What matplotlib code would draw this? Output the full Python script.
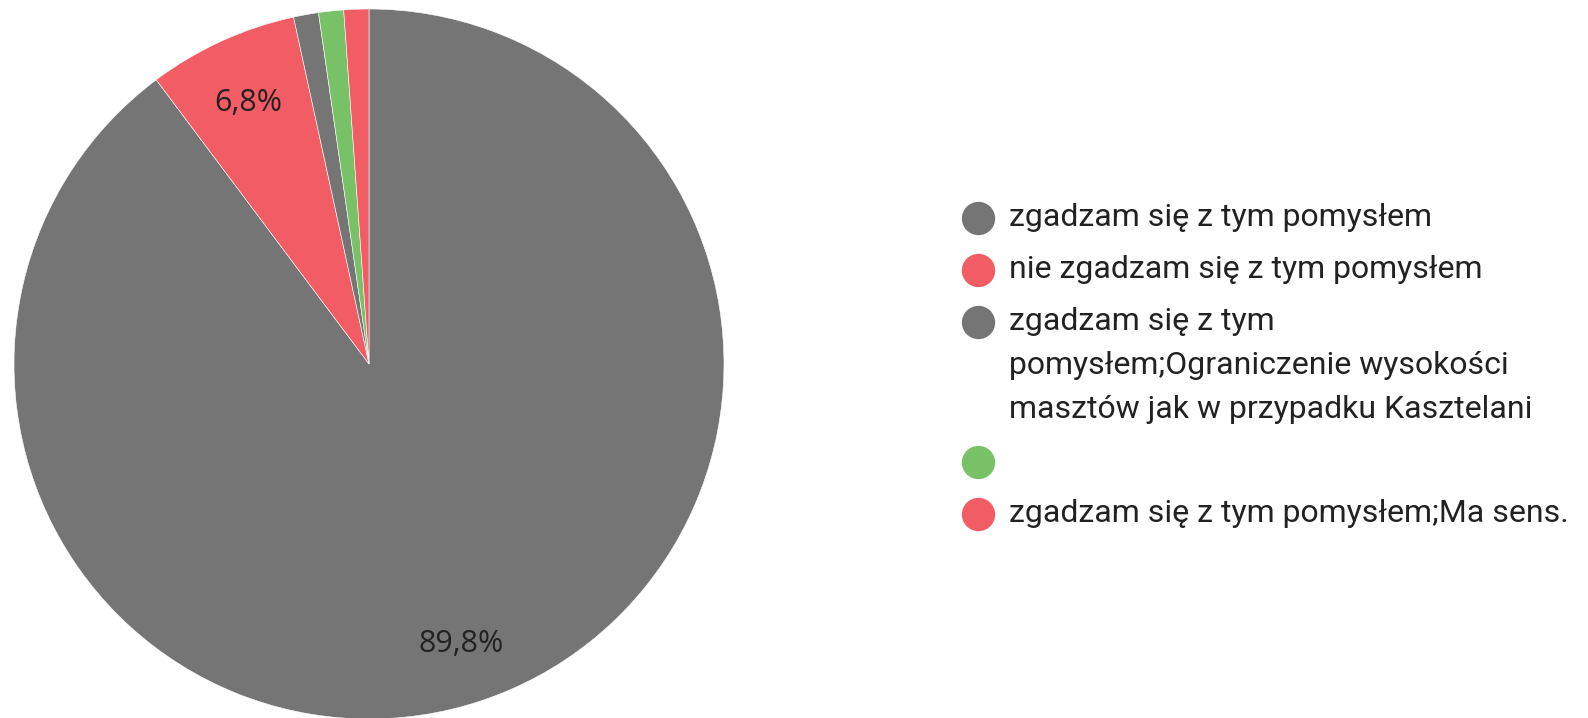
import matplotlib
matplotlib.use("Agg")
import matplotlib.pyplot as plt

# odpowiedzi (liczba osób)
labels = [
    "zgadzam się z tym pomysłem",
    "nie zgadzam się z tym pomysłem",
    "zgadzam się z tym\npomysłem;Ograniczenie wysokości\nmasztów jak w przypadku Kasztelani",
    "",
    "zgadzam się z tym pomysłem;Ma sens.",
]
counts = [79, 6, 1, 1, 1]
colors = ["#757575", "#f25c64", "#757575", "#78c167", "#f25c64"]

W, H = 1588, 718
fig = plt.figure(figsize=(W / 100, H / 100), dpi=100)

# pie axes: center ~ (369, 364) px, radius ~355 px
cx, cy, r = 369, 364, 355
ax = fig.add_axes([(cx - r) / W, (H - cy - r) / H, 2 * r / W, 2 * r / H])


def fmt(p):
    return ("%.1f%%" % p).replace(".", ",") if p > 5 else ""


wedges, _, autotexts = ax.pie(
    counts, colors=colors, startangle=90, counterclock=False,
    autopct=fmt, pctdistance=0.82,
    wedgeprops=dict(edgecolor="white", linewidth=0.4),
    textprops=dict(fontsize=22, color="#222222", family=["Open Sans", "DejaVu Sans"]),
)
for t in autotexts:
    t.set_va("center_baseline")
ax.set_xlim(-1, 1)
ax.set_ylim(-1, 1)

# legenda rysowana ręcznie (znacznik przy pierwszej linii etykiety)
lax = fig.add_axes([0, 0, 1, 1])
lax.set_xlim(0, W)
lax.set_ylim(H, 0)
lax.axis("off")

y = 218
for lab, col in zip(labels, colors):
    lax.plot(978, y, "o", ms=24, color=col, mec="none")
    lines = lab.split("\n")
    for i, ln in enumerate(lines):
        lax.text(1009, y + i * 44, ln, fontsize=23, color="#222222",
                 family=["Roboto", "DejaVu Sans"], va="center", ha="left")
    y += (len(lines) - 1) * 44 + 52

fig.savefig("out.png", dpi=100, facecolor="white")
